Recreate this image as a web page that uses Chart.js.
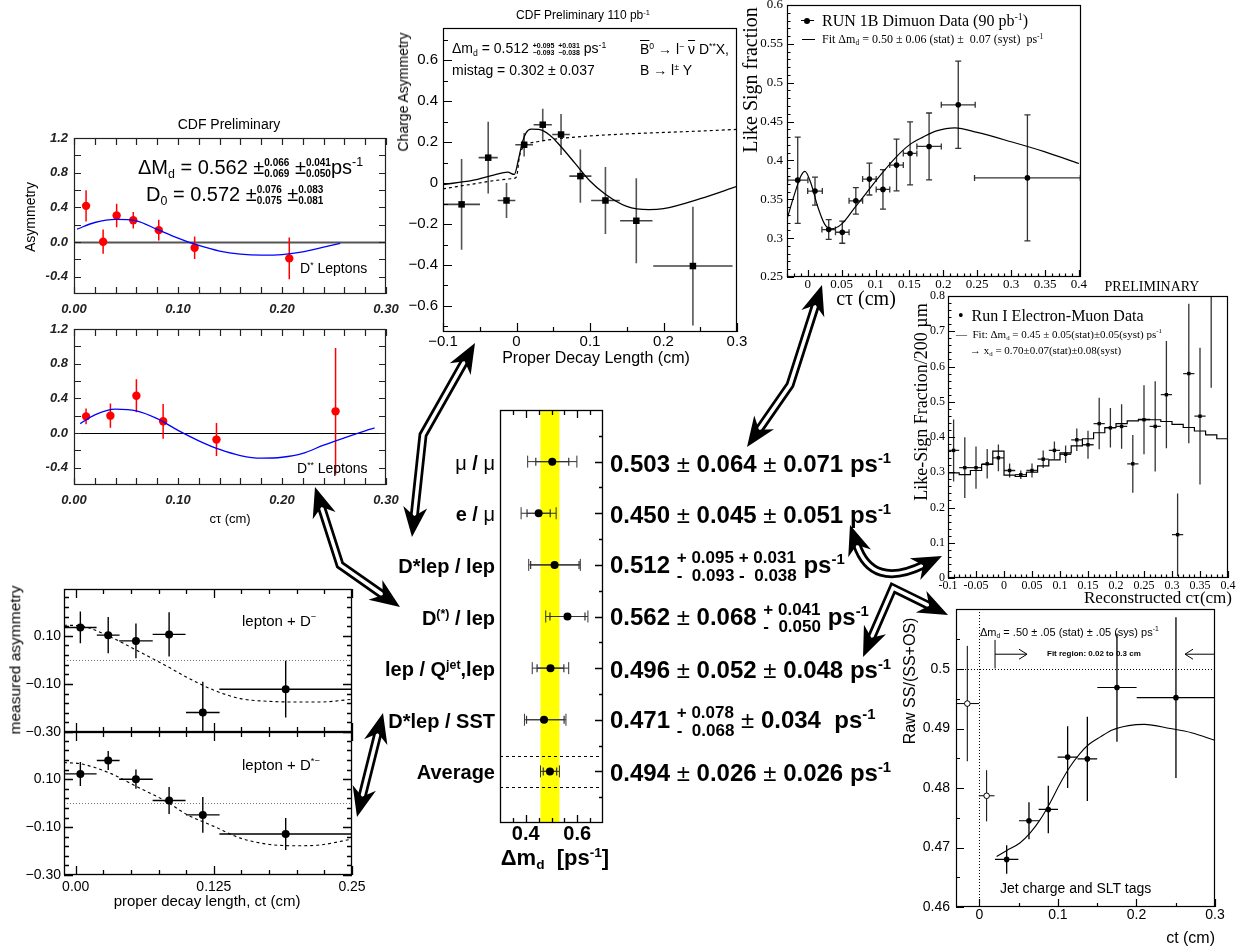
<!DOCTYPE html>
<html>
<head>
<meta charset="utf-8">
<script src="https://cdn.jsdelivr.net/npm/chart.js@4.4.0/dist/chart.umd.min.js"></script>
<style>
  body { margin: 0; background: #fff; }
  #stage { position: relative; width: 1248px; height: 946px; overflow: hidden; font-family: Arial, "Liberation Sans", sans-serif; }
  #stage canvas { position: absolute; left: 0; top: 0; }
  .t { position: absolute; white-space: nowrap; line-height: 1; color: #000; }
  .serif { font-family: "Liberation Serif", "Times New Roman", serif; }
  sup, sub { font-size: 62%; line-height: 0; }
  sup { vertical-align: 0.6em; }
  sub { vertical-align: -0.3em; }
  .st { display: inline-block; vertical-align: middle; line-height: 1.05; text-align: left; }
  .st > span { display: block; }
  .pm { font-weight: normal; }
</style>
</head>
<body>
<div id="stage"></div>
<script>
// ---------- top left: CDF Preliminary, D* / D** leptons ----------
const dStarX = [0.0116, 0.028, 0.041, 0.057, 0.0815, 0.116, 0.207];
const dStarY = [0.417, 0.003, 0.306, 0.252, 0.137, -0.066, -0.189];
const dStarErr = [0.18, 0.14, 0.135, 0.095, 0.12, 0.13, 0.24];
const dStarFitX = [0.003, 0.02, 0.04, 0.06, 0.08, 0.10, 0.12, 0.14, 0.16, 0.18, 0.20, 0.22, 0.24, 0.256];
const dStarFitY = [0.149, 0.225, 0.262, 0.245, 0.145, 0.045, -0.04, -0.105, -0.14, -0.151, -0.145, -0.115, -0.06, -0.017];

const dSSX = [0.0116, 0.035, 0.060, 0.0857, 0.137, 0.2515];
const dSSY = [0.192, 0.2, 0.43, 0.135, -0.076, 0.25];
const dSSErr = [0.092, 0.14, 0.19, 0.2, 0.19, 0.73];
const dSSFitX = [0.006, 0.02, 0.04, 0.06, 0.08, 0.10, 0.12, 0.14, 0.16, 0.18, 0.20, 0.22, 0.24, 0.26, 0.28, 0.289];
const dSSFitY = [0.108, 0.21, 0.275, 0.255, 0.165, 0.03, -0.09, -0.19, -0.26, -0.29, -0.28, -0.235, -0.14, -0.055, 0.025, 0.058];

// ---------- top middle: charge asymmetry, 110 pb-1 ----------
const caX = [-0.0747, -0.0385, -0.0136, 0.0104, 0.0357, 0.0606, 0.0869, 0.121, 0.163, 0.24];
const caY = [-0.104, 0.124, -0.085, 0.187, 0.285, 0.237, 0.034, -0.085, -0.184, -0.405];
const caXErr = [0.025, 0.013, 0.012, 0.012, 0.0124, 0.012, 0.015, 0.0195, 0.022, 0.054];
const caYErr = [0.222, 0.175, 0.085, 0.057, 0.078, 0.1, 0.13, 0.164, 0.207, 0.29];
const caFitX = [-0.1, -0.06, -0.03, -0.012, -0.003, 0.003, 0.008, 0.013, 0.02, 0.03, 0.045, 0.06, 0.08, 0.1, 0.12, 0.15, 0.18, 0.2, 0.25, 0.3];
const caFitY = [-0.007, 0.013, 0.04, 0.053, 0.042, 0.12, 0.2, 0.245, 0.263, 0.262, 0.235, 0.18, 0.095, 0.01, -0.052, -0.114, -0.13, -0.125, -0.076, -0.016];
const caDashX = [-0.1, -0.06, -0.03, -0.005, 0.0, 0.004, 0.008, 0.015, 0.03, 0.06, 0.1, 0.15, 0.2, 0.25, 0.3];
const caDashY = [-0.028, -0.005, 0.012, 0.022, 0.03, 0.13, 0.17, 0.19, 0.203, 0.218, 0.23, 0.24, 0.247, 0.254, 0.262];

// ---------- top right: RUN 1B dimuon like sign fraction ----------
const mmX = [-0.0147, 0.0108, 0.031, 0.051, 0.071, 0.091, 0.111, 0.131, 0.151, 0.179, 0.222, 0.324];
const mmY = [0.3746, 0.3606, 0.311, 0.3076, 0.348, 0.376, 0.3627, 0.394, 0.409, 0.418, 0.4716, 0.3775];
const mmXErr = [0.015, 0.0108, 0.01, 0.01, 0.01, 0.01, 0.01, 0.01, 0.01, 0.018, 0.025, 0.078];
const mmYErr = [0.0555, 0.018, 0.0127, 0.0142, 0.017, 0.0205, 0.0254, 0.0333, 0.0405, 0.043, 0.0561, 0.081];
const mmFitX = [-0.03, -0.02, -0.01, -0.004, 0.005, 0.015, 0.025, 0.035, 0.05, 0.07, 0.09, 0.11, 0.13, 0.15, 0.17, 0.19, 0.217, 0.25, 0.3, 0.35, 0.4];
const mmFitY = [0.326, 0.355, 0.38, 0.386, 0.37, 0.34, 0.318, 0.312, 0.318, 0.34, 0.362, 0.384, 0.404, 0.42, 0.43, 0.438, 0.442, 0.436, 0.424, 0.411, 0.396];

// ---------- right middle: Run I electron-muon ----------
const emX = [-0.09, -0.07, -0.05, -0.03, -0.01, 0.01, 0.03, 0.05, 0.07, 0.09, 0.11, 0.13, 0.15, 0.17, 0.19, 0.21, 0.23, 0.25, 0.27, 0.29, 0.31, 0.33, 0.35, 0.37];
const emY = [0.362, 0.313, 0.313, 0.324, 0.341, 0.305, 0.293, 0.305, 0.337, 0.362, 0.351, 0.392, 0.378, 0.438, 0.426, 0.43, 0.324, 0.449, 0.43, 0.52, 0.123, 0.58, 0.459, 0.86];
const emYErr = [0.088, 0.086, 0.06, 0.042, 0.038, 0.02, 0.012, 0.02, 0.025, 0.025, 0.025, 0.032, 0.04, 0.073, 0.056, 0.063, 0.082, 0.098, 0.128, 0.152, 0.117, 0.198, 0.194, 0.32];
const emBinX = [-0.1, -0.09, -0.07, -0.05, -0.03, -0.01, 0.01, 0.03, 0.05, 0.07, 0.09, 0.11, 0.13, 0.15, 0.17, 0.19, 0.21, 0.23, 0.25, 0.27, 0.29, 0.31, 0.33, 0.35, 0.37, 0.39, 0.4];
const emFit = [0.298, 0.298, 0.293, 0.305, 0.322, 0.36, 0.292, 0.288, 0.3, 0.318, 0.335, 0.355, 0.375, 0.395, 0.412, 0.427, 0.438, 0.446, 0.45, 0.449, 0.444, 0.436, 0.427, 0.417, 0.406, 0.395, 0.395];

// ---------- bottom right: jet charge and SLT tags ----------
const jqOpenX = [-0.0153, 0.0093];
const jqOpenY = [0.4942, 0.4787];
const jqOpenXErr = [0.015, 0.01];
const jqOpenYErr = [0.0097, 0.0043];
const jqX = [0.0348, 0.0632, 0.0878, 0.1124, 0.1375, 0.1752, 0.2503];
const jqY = [0.468, 0.4745, 0.4764, 0.4852, 0.4849, 0.4969, 0.4952];
const jqXErr = [0.0149, 0.0127, 0.0123, 0.0127, 0.0125, 0.025, 0.05];
const jqYErr = [0.0024, 0.0031, 0.004, 0.0052, 0.0071, 0.0091, 0.0135];
const jqFitX = [0.022, 0.035, 0.052, 0.065, 0.077, 0.09, 0.103, 0.115, 0.128, 0.14, 0.154, 0.17, 0.19, 0.21, 0.243, 0.27, 0.3];
const jqFitY = [0.4685, 0.4695, 0.4708, 0.4725, 0.4746, 0.4775, 0.4808, 0.4835, 0.4858, 0.4874, 0.4886, 0.4898, 0.4905, 0.4907, 0.49, 0.4893, 0.488];
const jqFitRegion = [0.02, 0.3];

// ---------- bottom left: lepton + D- / lepton + D*- ----------
const ldX = [0.0042, 0.0294, 0.0545, 0.0845, 0.115, 0.19];
const ldXErr = [0.0147, 0.0103, 0.0152, 0.0149, 0.0152, 0.06];
const ldY = [0.135, 0.103, 0.079, 0.106, -0.219, -0.122];
const ldYErr = [0.066, 0.075, 0.072, 0.092, 0.128, 0.118];
const ldsY = [0.122, 0.178, 0.10, 0.011, -0.049, -0.129];
const ldsYErr = [0.05, 0.04, 0.04, 0.056, 0.075, 0.067];
const ldFitX = [-0.0106, 0.0036, 0.031, 0.058, 0.082, 0.1, 0.125, 0.149, 0.173, 0.198, 0.222, 0.25];
const ldFitY = [0.144, 0.142, 0.096, 0.033, -0.025, -0.071, -0.126, -0.161, -0.172, -0.175, -0.175, -0.164];
const ldsFitY = [0.169, 0.165, 0.125, 0.0625, 0.007, -0.046, -0.097, -0.146, -0.171, -0.178, -0.174, -0.15];

// ---------- centre: delta m_d summary ----------
const mdLabels = ['<span class="pm">μ</span> / <span class="pm">μ</span>', 'e / <span class="pm">μ</span>', 'D*lep / lep',
  'D<sup>(*)</sup> / lep', 'lep / Q<sup>jet</sup>,lep', 'D*lep / SST', 'Average'];
const mdVal = [0.503, 0.450, 0.512, 0.562, 0.496, 0.471, 0.494];
const mdStatLo = [0.064, 0.045, 0.093, 0.068, 0.052, 0.068, 0.026];
const mdStatHi = [0.064, 0.045, 0.095, 0.068, 0.052, 0.078, 0.026];
const mdSystLo = [0.071, 0.051, 0.038, 0.050, 0.048, 0.034, 0.026];
const mdSystHi = [0.071, 0.051, 0.031, 0.041, 0.048, 0.034, 0.026];
const mdText = [
  '0.503 <span class="pm">±</span> 0.064 <span class="pm">±</span> 0.071 ps<sup>-1</sup>',
  '0.450 <span class="pm">±</span> 0.045 <span class="pm">±</span> 0.051 ps<sup>-1</sup>',
  '0.512 <span class="st" style="font-size:17px"><span>+ 0.095 + 0.031</span><span>-&nbsp; 0.093 -&nbsp; 0.038</span></span> ps<sup>-1</sup>',
  '0.562 <span class="pm">±</span> 0.068 <span class="st" style="font-size:17px"><span>+ 0.041</span><span>-&nbsp; 0.050</span></span> ps<sup>-1</sup>',
  '0.496 <span class="pm">±</span> 0.052 <span class="pm">±</span> 0.048 ps<sup>-1</sup>',
  '0.471 <span class="st" style="font-size:17px"><span>+ 0.078</span><span>-&nbsp; 0.068</span></span> <span class="pm">±</span> 0.034 &nbsp;ps<sup>-1</sup>',
  '0.494 <span class="pm">±</span> 0.026 <span class="pm">±</span> 0.026 ps<sup>-1</sup>'
];

const W = 1248, H = 946;
const stage = document.getElementById('stage');

function pts(xs, ys) { return xs.map((v, i) => ({ x: v, y: ys[i] })); }
function steps(a, b, s) { const out = []; for (let v = a; v <= b + 1e-9; v += s) out.push(+v.toFixed(4)); return out; }

function label(x, y, html, style, anchor) {
  const d = document.createElement('div');
  d.className = 't';
  d.innerHTML = html;
  d.style.cssText += style || '';
  d.style.left = x + 'px';
  d.style.top = y + 'px';
  const tr = { l: 'translate(0,-50%)', c: 'translate(-50%,-50%)', r: 'translate(-100%,-50%)', rot: 'translate(-50%,-50%) rotate(-90deg)' };
  d.style.transform = tr[anchor || 'l'];
  stage.appendChild(d);
  return d;
}

// error bars drawn from dataset.bars through the chart scales
const errorBars = {
  id: 'errorBars',
  beforeDatasetsDraw(chart) {
    const { ctx, chartArea: a, scales: { x, y } } = chart;
    ctx.save();
    ctx.beginPath(); ctx.rect(a.left, a.top, a.width, a.height); ctx.clip();
    chart.data.datasets.forEach(ds => {
      (ds.bars || []).forEach(b => {
        ctx.strokeStyle = b.color || '#000';
        ctx.lineWidth = b.width || 1;
        ctx.beginPath();
        ds.data.forEach((p, i) => {
          const px = x.getPixelForValue(p.x), py = y.getPixelForValue(p.y);
          if (b.axis === 'x') {
            const x1 = x.getPixelForValue(p.x - b.lo[i]), x2 = x.getPixelForValue(p.x + b.hi[i]);
            ctx.moveTo(x1, py); ctx.lineTo(x2, py);
            if (b.cap) { ctx.moveTo(x1, py - b.cap); ctx.lineTo(x1, py + b.cap); ctx.moveTo(x2, py - b.cap); ctx.lineTo(x2, py + b.cap); }
          } else {
            const y1 = y.getPixelForValue(p.y - b.lo[i]), y2 = y.getPixelForValue(p.y + b.hi[i]);
            ctx.moveTo(px, y1); ctx.lineTo(px, y2);
            if (b.cap) { ctx.moveTo(px - b.cap, y1); ctx.lineTo(px + b.cap, y1); ctx.moveTo(px - b.cap, y2); ctx.lineTo(px + b.cap, y2); }
          }
        });
        ctx.stroke();
      });
    });
    ctx.restore();
  }
};

// frame, inward ticks, reference lines and bands
function decor(d) {
  return {
    id: 'decor',
    beforeDatasetsDraw(chart) {
      const { ctx, chartArea: a, scales: { x, y } } = chart;
      ctx.save();
      ctx.beginPath(); ctx.rect(a.left, a.top, a.width, a.height); ctx.clip();
      (d.bands || []).forEach(bd => {
        const x1 = x.getPixelForValue(bd.from), x2 = x.getPixelForValue(bd.to);
        ctx.fillStyle = bd.color;
        ctx.fillRect(x1, a.top, x2 - x1, a.height);
      });
      (d.hlines || []).forEach(h => {
        const py = Math.round(y.getPixelForValue(h.v)) + 0.5;
        ctx.strokeStyle = h.color || '#000'; ctx.lineWidth = h.width || 1; ctx.setLineDash(h.dash || []);
        ctx.beginPath(); ctx.moveTo(a.left, py); ctx.lineTo(a.right, py); ctx.stroke();
      });
      (d.vlines || []).forEach(h => {
        const px = Math.round(x.getPixelForValue(h.v)) + 0.5;
        ctx.strokeStyle = h.color || '#000'; ctx.lineWidth = h.width || 1; ctx.setLineDash(h.dash || []);
        ctx.beginPath(); ctx.moveTo(px, a.top); ctx.lineTo(px, a.bottom); ctx.stroke();
      });
      ctx.restore();
    },
    afterDatasetsDraw(chart) {
      const { ctx, chartArea: a, scales: { x, y } } = chart;
      ctx.save();
      ctx.strokeStyle = d.color || '#000';
      ctx.lineWidth = d.width || 1;
      ctx.beginPath();
      (d.ticks || []).forEach(tk => {
        tk.vals.forEach(v => {
          if (tk.axis === 'x') {
            const px = Math.round(x.getPixelForValue(v)) + 0.5;
            if (px < a.left || px > a.right + 1) return;
            if (tk.sides.includes('b')) { ctx.moveTo(px, a.bottom); ctx.lineTo(px, a.bottom - tk.len); }
            if (tk.sides.includes('t')) { ctx.moveTo(px, a.top); ctx.lineTo(px, a.top + tk.len); }
          } else {
            const py = Math.round(y.getPixelForValue(v)) + 0.5;
            if (py < a.top || py > a.bottom + 1) return;
            if (tk.sides.includes('l')) { ctx.moveTo(a.left, py); ctx.lineTo(a.left + tk.len, py); }
            if (tk.sides.includes('r')) { ctx.moveTo(a.right, py); ctx.lineTo(a.right - tk.len, py); }
          }
        });
      });
      ctx.stroke();
      ctx.strokeRect(Math.round(a.left) + 0.5, Math.round(a.top) + 0.5, Math.round(a.width) - 1, Math.round(a.height) - 1);
      if (d.extra) d.extra(chart);
      ctx.restore();
    }
  };
}

function panel(cfg) {
  const [l, t, r, b] = cfg.box;
  const yW = cfg.yW ?? 50, xH = cfg.xH ?? 30;
  const canvas = document.createElement('canvas');
  canvas.width = W; canvas.height = H;
  stage.appendChild(canvas);
  const tf = cfg.tickFont || { family: 'Arial', size: 13 };
  return new Chart(canvas.getContext('2d'), {
    type: 'scatter',
    data: { datasets: cfg.datasets },
    options: {
      responsive: false,
      animation: false,
      events: [],
      layout: { padding: { left: l - yW, top: t, right: W - r, bottom: H - b - xH } },
      plugins: { legend: { display: false }, tooltip: { enabled: false } },
      scales: {
        x: {
          type: 'linear', min: cfg.x[0], max: cfg.x[1],
          grid: { display: false, drawTicks: false }, border: { display: false },
          afterBuildTicks: s => { s.ticks = (cfg.xLabels || []).map(v => ({ value: v })); },
          afterFit: s => { s.height = xH; s.paddingLeft = 0; s.paddingRight = 0; },
          ticks: { display: !!cfg.xLabels, autoSkip: false, maxRotation: 0, padding: cfg.xPad ?? 2, font: tf, color: cfg.tickColor || '#000', callback: v => cfg.fmtX ? cfg.fmtX(v) : String(v) }
        },
        y: {
          type: 'linear', min: cfg.y[0], max: cfg.y[1], reverse: !!cfg.reverse,
          grid: { display: false, drawTicks: false }, border: { display: false },
          afterBuildTicks: s => { s.ticks = (cfg.yLabels || []).map(v => ({ value: v })); },
          afterFit: s => { s.width = yW; s.paddingTop = 0; s.paddingBottom = 0; },
          ticks: { display: !!cfg.yLabels, autoSkip: false, padding: cfg.yPad ?? 4, font: tf, color: cfg.tickColor || '#000', callback: v => cfg.fmtY ? cfg.fmtY(v) : String(v) }
        }
      }
    },
    plugins: [decor(cfg.decor || {}), errorBars]
  });
}

function fitLine(xs, ys, color, width, dash, extra) {
  return Object.assign({ data: pts(xs, ys), showLine: true, pointRadius: 0, borderColor: color, borderWidth: width,
    borderDash: dash || [], fill: false, cubicInterpolationMode: 'monotone' }, extra || {});
}
function dots(xs, ys, opts) {
  return Object.assign({ data: pts(xs, ys), showLine: false, pointRadius: 4, pointStyle: 'circle',
    backgroundColor: '#000', borderColor: '#000', borderWidth: 0 }, opts);
}

// ===== top-left panels =====
const cdfFont = { family: 'Arial', size: 13, weight: 'bold', style: 'italic' };
const cdfDecor = {
  color: '#222', width: 1.2,
  ticks: [{ axis: 'x', vals: steps(0, 0.3, 0.02), len: 7, sides: 'tb' }, { axis: 'y', vals: steps(-0.4, 1.2, 0.2), len: 7, sides: 'lr' }]
};
panel({
  box: [74, 138, 386, 294], x: [0, 0.3], y: [-0.6, 1.2], yW: 50, xH: 30,
  xLabels: [0, 0.1, 0.2, 0.3], yLabels: [-0.4, 0, 0.4, 0.8, 1.2], fmtX: v => v.toFixed(2), fmtY: v => v.toFixed(1),
  tickFont: cdfFont, tickColor: '#222', xPad: 8, yPad: 6,
  decor: Object.assign({ hlines: [{ v: 0, color: '#555', width: 2 }] }, cdfDecor),
  datasets: [
    fitLine(dStarFitX, dStarFitY, '#0000ff', 1.3),
    dots(dStarX, dStarY, { pointRadius: 4.2, backgroundColor: '#ff0000', borderColor: '#ff0000',
      bars: [{ axis: 'y', lo: dStarErr, hi: dStarErr, color: '#ff0000', width: 1.5 }] })
  ]
});
panel({
  box: [74, 329, 386, 485], x: [0, 0.3], y: [-0.6, 1.2], yW: 50, xH: 30,
  xLabels: [0, 0.1, 0.2, 0.3], yLabels: [-0.4, 0, 0.4, 0.8, 1.2], fmtX: v => v.toFixed(2), fmtY: v => v.toFixed(1),
  tickFont: cdfFont, tickColor: '#222', xPad: 8, yPad: 6,
  decor: Object.assign({ hlines: [{ v: 0, color: '#000', width: 1.2 }] }, cdfDecor),
  datasets: [
    fitLine(dSSFitX, dSSFitY, '#0000ff', 1.3),
    dots(dSSX, dSSY, { pointRadius: 4.2, backgroundColor: '#ff0000', borderColor: '#ff0000',
      bars: [{ axis: 'y', lo: dSSErr, hi: dSSErr, color: '#ff0000', width: 1.5 }] })
  ]
});

// ===== top-middle panel =====
panel({
  box: [443, 28, 737, 332], x: [-0.1, 0.3], y: [-0.727, 0.757], yW: 45, xH: 26,
  xLabels: [-0.1, 0, 0.1, 0.2, 0.3], yLabels: [-0.6, -0.4, -0.2, 0, 0.2, 0.4, 0.6],
  fmtX: v => v === 0 ? '0' : v.toFixed(1).replace('-', '−'), fmtY: v => v === 0 ? '0' : v.toFixed(1).replace('-', '−'),
  tickFont: { family: 'Arial', size: 15 }, xPad: 1, yPad: 5,
  decor: { color: '#000', width: 1.2, ticks: [
    { axis: 'y', vals: steps(-0.6, 0.6, 0.2), len: 9, sides: 'l' }, { axis: 'y', vals: steps(-0.7, 0.7, 0.2), len: 5, sides: 'l' },
    { axis: 'x', vals: steps(-0.1, 0.3, 0.1), len: 9, sides: 'b' }, { axis: 'x', vals: steps(-0.05, 0.25, 0.1), len: 5, sides: 'b' }] },
  datasets: [
    fitLine(caDashX, caDashY, '#000', 1.2, [3, 3]),
    fitLine(caFitX, caFitY, '#000', 1.3),
    dots(caX, caY, { pointStyle: 'rect', pointRadius: 4.6,
      bars: [{ axis: 'x', lo: caXErr, hi: caXErr, color: '#444', width: 1.6 }, { axis: 'y', lo: caYErr, hi: caYErr, color: '#555', width: 1.6 }] })
  ]
});

// ===== top-right panel =====
const serif = 'Liberation Serif';
panel({
  box: [787, 5, 1081, 277], x: [-0.0305, 0.403], y: [0.25, 0.6], yW: 45, xH: 20,
  xLabels: steps(0, 0.4, 0.05), yLabels: steps(0.25, 0.6, 0.05), fmtX: v => String(+v.toFixed(2)), fmtY: v => String(+v.toFixed(2)),
  tickFont: { family: serif, size: 13 }, xPad: 0, yPad: 4,
  decor: { color: '#000', width: 1.2, ticks: [
    { axis: 'x', vals: steps(0, 0.4, 0.05), len: 7, sides: 'b' }, { axis: 'x', vals: steps(-0.03, 0.4, 0.01), len: 3.5, sides: 'b' },
    { axis: 'y', vals: steps(0.25, 0.6, 0.05), len: 7, sides: 'l' }, { axis: 'y', vals: steps(0.25, 0.6, 0.01), len: 3.5, sides: 'l' }] },
  datasets: [
    fitLine(mmFitX, mmFitY, '#000', 1.2),
    dots(mmX, mmY, { pointRadius: 2.8,
      bars: [{ axis: 'x', lo: mmXErr, hi: mmXErr, color: '#333', width: 1.3, cap: 3 }, { axis: 'y', lo: mmYErr, hi: mmYErr, color: '#333', width: 1.3, cap: 3 }] })
  ]
});

// ===== right-middle panel =====
const emXErr = emX.map(() => 0.01);
panel({
  box: [948, 296, 1228, 578], x: [-0.1, 0.4], y: [0, 0.8], yW: 40, xH: 20,
  xLabels: steps(-0.1, 0.4, 0.05), yLabels: steps(0, 0.8, 0.1), fmtX: v => String(+v.toFixed(2)), fmtY: v => String(+v.toFixed(1)),
  tickFont: { family: serif, size: 12 }, xPad: 1, yPad: 3,
  decor: { color: '#000', width: 1.2, ticks: [
    { axis: 'x', vals: steps(-0.1, 0.4, 0.05), len: 7, sides: 'b' }, { axis: 'x', vals: steps(-0.1, 0.4, 0.01), len: 3.5, sides: 'b' },
    { axis: 'y', vals: steps(0, 0.8, 0.1), len: 7, sides: 'l' }, { axis: 'y', vals: steps(0, 0.8, 0.02), len: 3.5, sides: 'l' }] },
  datasets: [
    { data: pts(emBinX, emFit), showLine: true, pointRadius: 0, borderColor: '#000', borderWidth: 1.2, stepped: 'middle', fill: false },
    dots(emX, emY, { pointStyle: 'rect', pointRadius: 2.4,
      bars: [{ axis: 'x', lo: emXErr, hi: emXErr, color: '#222', width: 1.3 }, { axis: 'y', lo: emYErr, hi: emYErr, color: '#333', width: 1.3 }] })
  ]
});

// ===== bottom-right panel =====
panel({
  box: [956, 609, 1215, 907], x: [-0.0297, 0.3], y: [0.46, 0.5101], yW: 45, xH: 24,
  xLabels: [0, 0.1, 0.2, 0.3], yLabels: [0.46, 0.47, 0.48, 0.49, 0.5], fmtX: v => String(+v.toFixed(1)), fmtY: v => String(+v.toFixed(2)),
  tickFont: { family: 'Arial', size: 14 }, xPad: 0, yPad: 6,
  decor: {
    color: '#000', width: 1.2,
    hlines: [{ v: 0.5, color: '#000', width: 1, dash: [1, 2] }], vlines: [{ v: 0, color: '#000', width: 1, dash: [1, 2] }],
    ticks: [
      { axis: 'x', vals: [0, 0.1, 0.2, 0.3], len: 8, sides: 'b' }, { axis: 'x', vals: [0.05, 0.15, 0.25], len: 4, sides: 'b' },
      { axis: 'y', vals: steps(0.46, 0.5, 0.01), len: 8, sides: 'l' }, { axis: 'y', vals: steps(0.465, 0.51, 0.01), len: 4, sides: 'l' }],
    extra(chart) {
      // fit-region markers
      const { ctx, scales: { x, y } } = chart;
      const x1 = x.getPixelForValue(jqFitRegion[0]), x2 = x.getPixelForValue(jqFitRegion[1]);
      const py = y.getPixelForValue(0.5025);
      ctx.strokeStyle = '#000'; ctx.lineWidth = 1;
      ctx.beginPath();
      ctx.moveTo(x1, y.getPixelForValue(0.5049)); ctx.lineTo(x1, y.getPixelForValue(0.5001));
      ctx.moveTo(x1, py); ctx.lineTo(x1 + 32, py);
      ctx.moveTo(x1 + 24, py - 5); ctx.lineTo(x1 + 32, py); ctx.lineTo(x1 + 24, py + 5);
      ctx.moveTo(x2, py); ctx.lineTo(x2 - 30, py);
      ctx.moveTo(x2 - 22, py - 5); ctx.lineTo(x2 - 30, py); ctx.lineTo(x2 - 22, py + 5);
      ctx.stroke();
    }
  },
  datasets: [
    fitLine(jqFitX, jqFitY, '#000', 1.1),
    dots(jqX, jqY, { pointRadius: 2.8,
      bars: [{ axis: 'x', lo: jqXErr, hi: jqXErr, color: '#000', width: 1.2 }, { axis: 'y', lo: jqYErr, hi: jqYErr, color: '#000', width: 1.3 }] }),
    dots(jqOpenX, jqOpenY, { pointRadius: 2.8, backgroundColor: '#fff', borderColor: '#000', borderWidth: 1,
      bars: [{ axis: 'x', lo: jqOpenXErr, hi: jqOpenXErr, color: '#000', width: 1 }, { axis: 'y', lo: jqOpenYErr, hi: jqOpenYErr, color: '#000', width: 1 }] })
  ]
});

// ===== bottom-left panels =====
const ldDecor = {
  color: '#000', width: 1.3,
  hlines: [{ v: 0, color: '#777', width: 1, dash: [1, 2] }],
  ticks: [
    { axis: 'x', vals: [0, 0.125, 0.25], len: 9, sides: 'tb' }, { axis: 'x', vals: steps(0.025, 0.225, 0.025), len: 5, sides: 'tb' },
    { axis: 'y', vals: [-0.3, -0.1, 0.1], len: 9, sides: 'lr' }, { axis: 'y', vals: steps(-0.26, 0.26, 0.04), len: 5, sides: 'lr' }]
};
const fmtLd = v => v.toFixed(2).replace('-', '−');
panel({
  box: [64, 589, 352, 732], x: [-0.0106, 0.25], y: [-0.3, 0.295], yW: 60, xH: 0,
  yLabels: [-0.3, -0.1, 0.1], fmtY: fmtLd, tickFont: { family: 'Arial', size: 14 }, yPad: 3,
  decor: ldDecor,
  datasets: [
    fitLine(ldFitX, ldFitY, '#000', 1.1, [3, 3]),
    dots(ldX, ldY, { pointRadius: 4,
      bars: [{ axis: 'x', lo: ldXErr, hi: ldXErr, color: '#000', width: 1.4 }, { axis: 'y', lo: ldYErr, hi: ldYErr, color: '#000', width: 1.4 }] })
  ]
});
panel({
  box: [64, 732, 352, 875], x: [-0.0106, 0.25], y: [-0.3, 0.297], yW: 60, xH: 30,
  xLabels: [0, 0.125, 0.25], yLabels: [-0.3, -0.1, 0.1], fmtX: v => v === 0.125 ? '0.125' : v.toFixed(2), fmtY: fmtLd,
  tickFont: { family: 'Arial', size: 14 }, xPad: 4, yPad: 3,
  decor: ldDecor,
  datasets: [
    fitLine(ldFitX, ldsFitY, '#000', 1.1, [3, 3]),
    dots(ldX, ldsY, { pointRadius: 4,
      bars: [{ axis: 'x', lo: ldXErr, hi: ldXErr, color: '#000', width: 1.4 }, { axis: 'y', lo: ldsYErr, hi: ldsYErr, color: '#000', width: 1.4 }] })
  ]
});

// ===== centre summary =====
const mdTotLo = mdStatLo.map((s, i) => Math.hypot(s, mdSystLo[i]));
const mdTotHi = mdStatHi.map((s, i) => Math.hypot(s, mdSystHi[i]));
const avg = mdVal.length - 1;
const summary = panel({
  box: [500, 410, 603, 823], x: [0.3, 0.7], y: [-1, 7], reverse: true, yW: 0, xH: 26,
  xLabels: [0.4, 0.6], fmtX: v => v.toFixed(1), tickFont: { family: 'Arial', size: 20, weight: 'bold' }, xPad: -1,
  decor: {
    color: '#000', width: 1.3,
    bands: [{ from: mdVal[avg] - mdTotLo[avg], to: mdVal[avg] + mdTotHi[avg], color: '#ffff00' }],
    hlines: [{ v: avg - 0.3, color: '#000', width: 1, dash: [3, 3] }, { v: avg + 0.3, color: '#000', width: 1, dash: [3, 3] }],
    ticks: [
      { axis: 'x', vals: [0.4, 0.6], len: 8, sides: 'tb' }, { axis: 'x', vals: [0.35, 0.45, 0.5, 0.55, 0.65], len: 5, sides: 'tb' },
      { axis: 'y', vals: steps(0, 6, 1), len: 8, sides: 'r' }, { axis: 'y', vals: steps(-0.5, 6.5, 1), len: 4, sides: 'r' }]
  },
  datasets: [
    dots(mdVal, mdVal.map((v, i) => i), { pointRadius: 4,
      bars: [{ axis: 'x', lo: mdTotLo, hi: mdTotHi, color: '#333', width: 1, cap: 6 }, { axis: 'x', lo: mdStatLo, hi: mdStatHi, color: '#333', width: 1.2, cap: 4 }] })
  ]
});

// ===== texts =====
const ys = summary.scales.y;
mdLabels.forEach((s, i) => label(495, ys.getPixelForValue(i) + 1, s, 'font-weight:bold;font-size:20px;', 'r'));
mdText.forEach((s, i) => label(610, ys.getPixelForValue(i) + 2, s, 'font-weight:bold;font-size:24px;', 'l'));
label(555, 858, 'Δm<sub>d</sub> &nbsp;[ps<sup>-1</sup>]', 'font-weight:bold;font-size:22px;', 'c');

// top-left
label(229, 124, 'CDF Preliminary', 'font-size:14px;', 'c');
label(30, 217, 'Asymmetry', 'font-size:14px;', 'rot');
label(138, 168, 'ΔM<sub>d</sub> = 0.562 ±<span class="st" style="font-size:10px;font-weight:bold"><span>0.066</span><span>0.069</span></span>' +
  ' ±<span class="st" style="font-size:10px;font-weight:bold"><span>0.041</span><span>0.050</span></span>ps<sup>-1</sup>', 'font-size:20px;', 'l');
label(146, 195, 'D<sub>0</sub> = 0.572 ±<span class="st" style="font-size:10px;font-weight:bold"><span>0.076</span><span>0.075</span></span>' +
  ' ±<span class="st" style="font-size:10px;font-weight:bold"><span>0.083</span><span>0.081</span></span>', 'font-size:20px;', 'l');
label(300, 268, 'D<sup>*</sup> Leptons', 'font-size:14px;', 'l');
label(297, 468, 'D<sup>**</sup> Leptons', 'font-size:14px;', 'l');
label(230, 518, 'cτ (cm)', 'font-size:13px;', 'c');

// top-middle
label(583, 15, 'CDF Preliminary 110 pb<sup>-1</sup>', 'font-size:12px;', 'c');
label(403, 92, 'Charge Asymmetry', 'font-size:14px;', 'rot');
label(596, 358, 'Proper Decay Length (cm)', 'font-size:16px;', 'c');
label(452, 49, 'Δm<sub>d</sub> = 0.512 <span class="st" style="font-size:7px;font-weight:bold"><span>+0.095</span><span>−0.093</span></span>' +
  ' <span class="st" style="font-size:7px;font-weight:bold"><span>+0.031</span><span>−0.038</span></span> ps<sup>-1</sup>', 'font-size:14px;', 'l');
label(640, 49, '<span style="text-decoration:overline">B</span><sup>0</sup> → l<sup>−</sup> <span style="text-decoration:overline">ν</span> D<sup>**</sup>X,', 'font-size:14px;', 'l');
label(452, 70, 'mistag = 0.302 ± 0.037', 'font-size:14px;', 'l');
label(640, 70, 'B → l<sup>±</sup> Y', 'font-size:14px;', 'l');

// top-right
label(822, 21, 'RUN 1B Dimuon Data (90 pb<sup>-1</sup>)', 'font-size:16px;', 'l').classList.add('serif');
label(822, 39, 'Fit Δm<sub>d</sub> = 0.50 ± 0.06 (stat) ± &nbsp;0.07 (syst) &nbsp;ps<sup>-1</sup>', 'font-size:12px;', 'l').classList.add('serif');
label(750, 80, 'Like Sign fraction', 'font-size:20px;', 'rot').classList.add('serif');
label(866, 298, 'cτ (cm)', 'font-size:20px;', 'c').classList.add('serif');
const lg1 = document.createElement('div');
lg1.style.cssText = 'position:absolute;left:801px;top:20px;width:13px;height:1px;background:#000';
stage.appendChild(lg1);
const lg2 = document.createElement('div');
lg2.style.cssText = 'position:absolute;left:804px;top:18px;width:6px;height:6px;border-radius:50%;background:#000';
stage.appendChild(lg2);
const lg3 = document.createElement('div');
lg3.style.cssText = 'position:absolute;left:802px;top:39px;width:13px;height:1px;background:#000';
stage.appendChild(lg3);

// right-middle
label(1152, 287, 'PRELIMINARY', 'font-size:14px;', 'c').classList.add('serif');
label(958, 316, '• &nbsp;Run I Electron-Muon Data', 'font-size:16px;', 'l').classList.add('serif');
label(956, 334, '— &nbsp;Fit: Δm<sub>d</sub> = 0.45 ± 0.05(stat)±0.05(syst) ps<sup>-1</sup>', 'font-size:11px;', 'l').classList.add('serif');
label(970, 350, '→ x<sub>d</sub> = 0.70±0.07(stat)±0.08(syst)', 'font-size:11px;', 'l').classList.add('serif');
label(921, 402, 'Like-Sign Fraction/200 µm', 'font-size:18px;', 'rot').classList.add('serif');
label(1232, 597, 'Reconstructed cτ(cm)', 'font-size:17px;', 'r').classList.add('serif');

// bottom-right
label(980, 632, 'Δm<sub>d</sub> = .50 ± .05 (stat) ± .05 (sys) ps<sup>-1</sup>', 'font-size:11px;', 'l');
label(1047, 654, 'Fit region: 0.02 to 0.3 cm', 'font-size:8px;font-weight:bold;', 'l');
label(1000, 888, 'Jet charge and SLT tags', 'font-size:14px;', 'l');
label(910, 681, 'Raw SS/(SS+OS)', 'font-size:16px;', 'rot');
label(1215, 938, 'ct (cm)', 'font-size:16px;', 'r');

// bottom-left
label(242, 620, 'lepton + D<sup>−</sup>', 'font-size:15px;', 'l');
label(242, 764, 'lepton + D<sup>*−</sup>', 'font-size:15px;', 'l');
label(15, 660, 'measured asymmetry', 'font-size:15.5px;', 'rot');
label(207, 900, 'proper decay length, ct (cm)', 'font-size:15px;', 'c');

// ===== double-line arrows linking panels to the summary =====
const arrowCanvas = document.createElement('canvas');
arrowCanvas.width = W; arrowCanvas.height = H;
stage.appendChild(arrowCanvas);
const actx = arrowCanvas.getContext('2d');

function head(tip, from) {
  const ang = Math.atan2(tip[1] - from[1], tip[0] - from[0]);
  actx.save();
  actx.translate(tip[0], tip[1]); actx.rotate(ang);
  actx.fillStyle = '#000';
  actx.beginPath();
  actx.moveTo(0, 0); actx.lineTo(-30, -12); actx.lineTo(-21, 0); actx.lineTo(-30, 12);
  actx.closePath(); actx.fill();
  actx.restore();
}
function cut(p, q, d) {
  const dx = q[0] - p[0], dy = q[1] - p[1], n = Math.hypot(dx, dy);
  return [p[0] + dx / n * d, p[1] + dy / n * d];
}
function dblArrow(p, ctrl) {
  const a = cut(p[0], ctrl || p[1], 20), b = cut(p[p.length - 1], ctrl || p[p.length - 2], 20);
  const path = () => {
    actx.beginPath();
    actx.moveTo(a[0], a[1]);
    if (ctrl) actx.quadraticCurveTo(ctrl[0], ctrl[1], b[0], b[1]);
    else { for (let i = 1; i < p.length - 1; i++) actx.lineTo(p[i][0], p[i][1]); actx.lineTo(b[0], b[1]); }
  };
  actx.lineJoin = 'miter';
  path(); actx.strokeStyle = '#000'; actx.lineWidth = 9; actx.stroke();
  path(); actx.strokeStyle = '#fff'; actx.lineWidth = 3.5; actx.stroke();
  head(p[0], ctrl || p[1]);
  head(p[p.length - 1], ctrl || p[p.length - 2]);
}
dblArrow([[475, 343], [423, 435], [412, 537]]);
dblArrow([[315, 487], [340, 565], [400, 607]]);
dblArrow([[383, 713], [357, 817]]);
dblArrow([[822, 285], [790, 385], [747, 447]]);
dblArrow([[850, 525], [942, 556]], [872, 590]);
dblArrow([[948, 615], [893, 588], [863, 657]]);
</script>
</body>
</html>
